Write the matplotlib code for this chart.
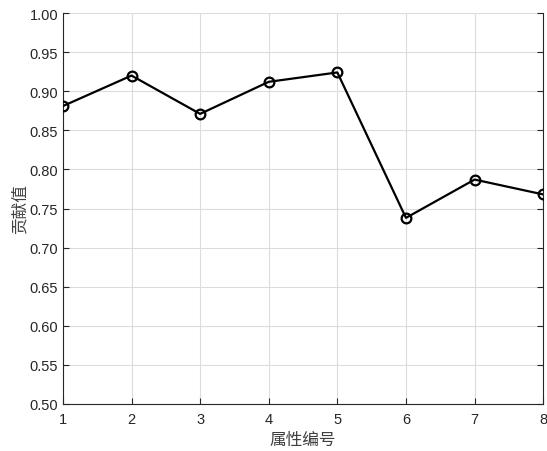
import matplotlib
matplotlib.use('Agg')
from matplotlib import pyplot as plt

# attribute index and contribution values
attr_ids = [1, 2, 3, 4, 5, 6, 7, 8]
contrib = [0.881, 0.920, 0.871, 0.912, 0.924, 0.738, 0.787, 0.768]
yticks = [0.50, 0.55, 0.60, 0.65, 0.70, 0.75, 0.80, 0.85, 0.90, 0.95, 1.00]

plt.rcParams['font.family'] = ['Liberation Sans', 'Noto Sans CJK SC', 'DejaVu Sans']

fig = plt.figure(figsize=(5.47, 4.52), dpi=100)
ax = fig.add_axes([0.115, 0.104, 0.878, 0.865])

ax.plot(attr_ids, contrib, color='black', linewidth=1.6, marker='o',
        markersize=7, markerfacecolor='none', markeredgewidth=1.6, zorder=3)

ax.set_xlim(1, 8)
ax.set_ylim(0.5, 1.0)
ax.set_xticks(attr_ids)
ax.set_yticks(yticks)
ax.set_yticklabels(['%.2f' % v for v in yticks])
ax.grid(True, color='#dcdcdc', linewidth=0.8)
ax.set_axisbelow(True)
ax.tick_params(direction='in', labelsize=10.5, length=4, width=0.8,
               top=False, right=True, colors='#262626')
ax.tick_params(axis='x', pad=6)
ax.spines['top'].set_visible(False)
for s in ['left', 'bottom', 'right']:
    ax.spines[s].set_linewidth(0.8)
    ax.spines[s].set_color('#262626')

ax.set_xlabel('属性编号', fontsize=12, family=['Noto Sans CJK SC'], color='#404040', labelpad=3)
ax.set_ylabel('贡献值', fontsize=12, family=['Noto Sans CJK SC'], color='#404040', labelpad=1)

fig.savefig('out.png', dpi=100)
